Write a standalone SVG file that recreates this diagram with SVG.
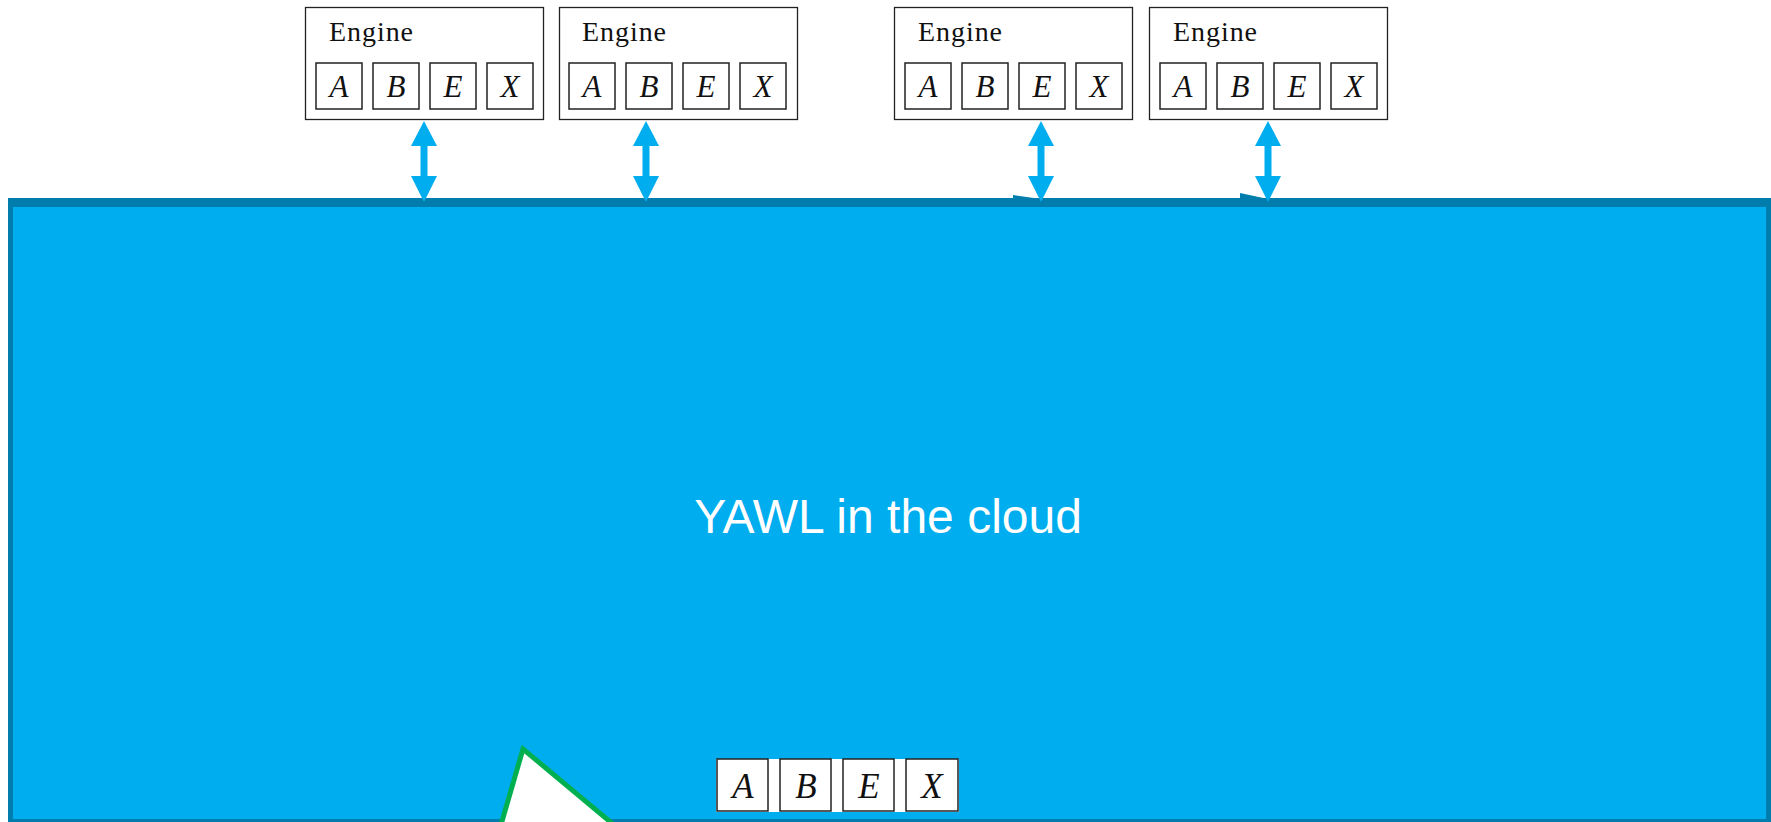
<svg xmlns="http://www.w3.org/2000/svg" width="1771" height="822" viewBox="0 0 1771 822">
<defs>
<style>
.eng{fill:#fff;stroke:#222;stroke-width:1.3}
.sq{fill:#fff;stroke:#222;stroke-width:1.5}
.lbl{font-family:"Liberation Serif","DejaVu Serif",serif;font-size:28px;fill:#111}
.let{font-family:"Liberation Serif","DejaVu Serif",serif;font-style:italic;font-size:31px;fill:#111;text-anchor:middle}
.big{font-family:"Liberation Serif","DejaVu Serif",serif;font-style:italic;font-size:35px;fill:#111;text-anchor:middle}
.conn{stroke:#00ADEF;stroke-width:7;fill:none}
.head{fill:#00ADEF}
</style>
</defs>
<rect width="1771" height="822" fill="#fff"/>
<g id="cloud">
<rect x="8" y="198" width="1763" height="624" fill="#007DAD"/>
<rect x="13" y="207" width="1753" height="612" fill="#00ADEF"/>
<text x="888" y="533" font-family="Liberation Sans, Arial, sans-serif" font-size="48" fill="#fff" text-anchor="middle">YAWL in the cloud</text>
</g>
<g id="engine1">
<rect class="eng" x="305.5" y="7.5" width="238" height="112"/>
<text class="lbl" x="329" y="41" textLength="84">Engine</text>
<rect class="sq" x="316" y="63" width="46" height="46"/><text class="let" x="339" y="97">A</text>
<rect class="sq" x="373" y="63" width="46" height="46"/><text class="let" x="396" y="97">B</text>
<rect class="sq" x="430" y="63" width="46" height="46"/><text class="let" x="453" y="97">E</text>
<rect class="sq" x="487" y="63" width="46" height="46"/><text class="let" x="510" y="97">X</text>
</g>
<g id="engine2">
<rect class="eng" x="559.5" y="7.5" width="238" height="112"/>
<text class="lbl" x="582" y="41" textLength="84">Engine</text>
<rect class="sq" x="569" y="63" width="46" height="46"/><text class="let" x="592" y="97">A</text>
<rect class="sq" x="626" y="63" width="46" height="46"/><text class="let" x="649" y="97">B</text>
<rect class="sq" x="683" y="63" width="46" height="46"/><text class="let" x="706" y="97">E</text>
<rect class="sq" x="740" y="63" width="46" height="46"/><text class="let" x="763" y="97">X</text>
</g>
<g id="engine3">
<rect class="eng" x="894.5" y="7.5" width="238" height="112"/>
<text class="lbl" x="918" y="41" textLength="84">Engine</text>
<rect class="sq" x="905" y="63" width="46" height="46"/><text class="let" x="928" y="97">A</text>
<rect class="sq" x="962" y="63" width="46" height="46"/><text class="let" x="985" y="97">B</text>
<rect class="sq" x="1019" y="63" width="46" height="46"/><text class="let" x="1042" y="97">E</text>
<rect class="sq" x="1076" y="63" width="46" height="46"/><text class="let" x="1099" y="97">X</text>
</g>
<g id="engine4">
<rect class="eng" x="1149.5" y="7.5" width="238" height="112"/>
<text class="lbl" x="1173" y="41" textLength="84">Engine</text>
<rect class="sq" x="1160" y="63" width="46" height="46"/><text class="let" x="1183" y="97">A</text>
<rect class="sq" x="1217" y="63" width="46" height="46"/><text class="let" x="1240" y="97">B</text>
<rect class="sq" x="1274" y="63" width="46" height="46"/><text class="let" x="1297" y="97">E</text>
<rect class="sq" x="1331" y="63" width="46" height="46"/><text class="let" x="1354" y="97">X</text>
</g>
<g id="connectors">
<line class="conn" x1="424" y1="140" x2="424" y2="182"/>
<polygon class="head" points="424,121 437,146 411,146"/>
<polygon class="head" points="424,202 437,176 411,176"/>
<line class="conn" x1="646" y1="140" x2="646" y2="182"/>
<polygon class="head" points="646,121 659,146 633,146"/>
<polygon class="head" points="646,202 659,176 633,176"/>
<line class="conn" x1="1041" y1="140" x2="1041" y2="182"/>
<polygon class="head" points="1041,121 1054,146 1028,146"/>
<polygon class="head" points="1041,202 1054,176 1028,176"/>
<line class="conn" x1="1268" y1="140" x2="1268" y2="182"/>
<polygon class="head" points="1268,121 1281,146 1255,146"/>
<polygon class="head" points="1268,202 1281,176 1255,176"/>
<polygon points="1013,195 1041,199 1013,199" fill="#007DAD"/>
<polygon points="1240,193 1268,199 1240,199" fill="#007DAD"/>
</g>
<g id="triangle">
<polygon points="523,749 498,835 626,835" fill="#fff" stroke="#00B050" stroke-width="5"/>
</g>
<g id="queue">
<rect x="716" y="759" width="243" height="53" fill="#fff"/>
<rect class="sq" x="717" y="759" width="51" height="52"/><text class="big" x="743" y="798">A</text>
<rect class="sq" x="780" y="759" width="51" height="52"/><text class="big" x="806" y="798">B</text>
<rect class="sq" x="843" y="759" width="51" height="52"/><text class="big" x="869" y="798">E</text>
<rect class="sq" x="906" y="759" width="52" height="52"/><text class="big" x="932" y="798">X</text>
</g>
</svg>
